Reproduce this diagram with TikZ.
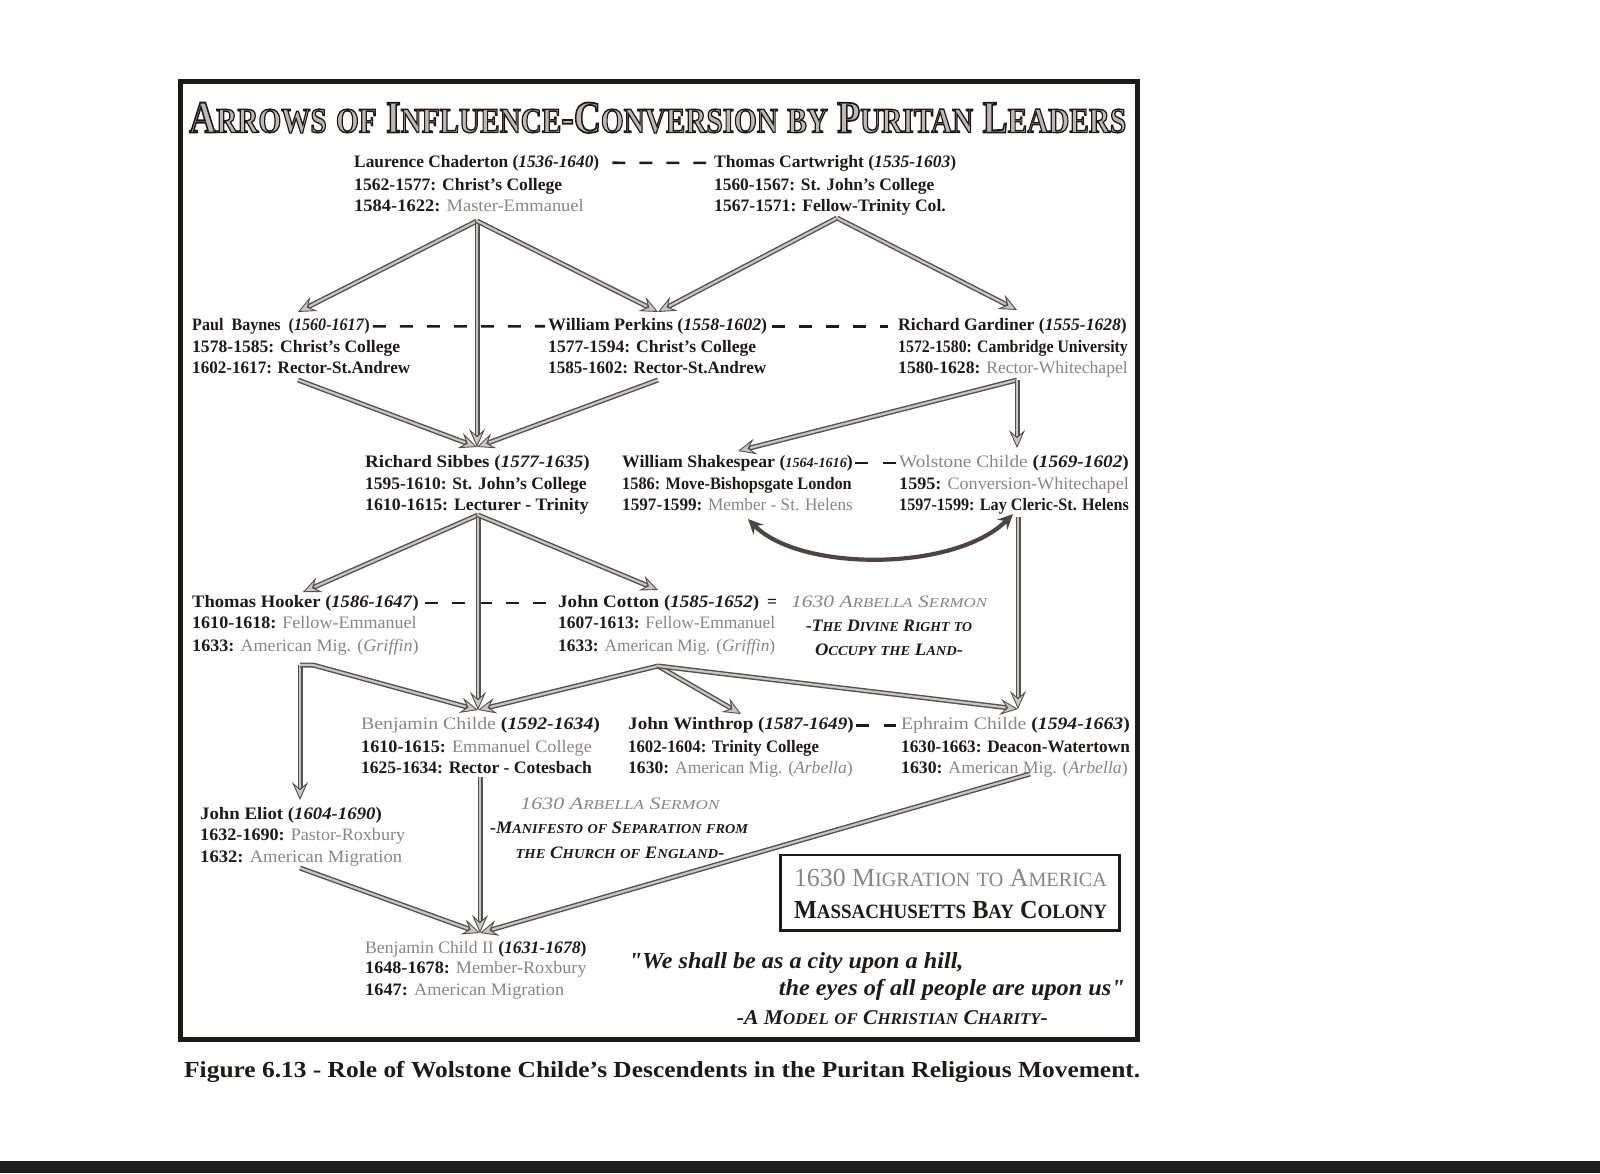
\documentclass[tikz,border=0pt]{standalone}
\usepackage{fontspec}
\setmainfont{Liberation Serif}
\usepackage{graphicx}
\usetikzlibrary{arrows.meta}
\definecolor{ink}{HTML}{1E1A1A}
\definecolor{lt}{HTML}{8A8585}
\definecolor{arrO}{HTML}{555050}
\definecolor{arrI}{HTML}{C9C5C5}
\definecolor{curv}{HTML}{4E4541}
\definecolor{titin}{HTML}{BDB8B5}
\newcommand\fw[2]{\resizebox{#1pt}{\height}{#2}}
\newcommand\txg[1]{{\mdseries\color{lt}#1}}
\newcommand\smcp[1]{\scalebox{0.78}{#1}}
\newcommand\olon{\special{pdf:literal direct 2 Tr 1.6 w 0.12 0.1 0.1 RG}}
\newcommand\oloff{\special{pdf:literal direct 0 Tr}}
\newcommand\olsm[1]{\scalebox{0.78}{\olon #1\oloff}}
\newcommand\olbig[1]{\olon #1\oloff}
\tikzset{
  tx/.style={anchor=base west, inner sep=0pt, text=ink, font=\fontsize{17.5}{20}\selectfont\bfseries},
  txc/.style={tx, anchor=base},
  flow/.style={draw=arrO, line width=5pt, line join=round,
     -{Stealth[length=18pt,width=16pt,inset=7pt,line width=0.9pt,fill=arrI]},
     postaction={draw=arrI, line width=2.2pt, arrows=-, shorten >=12.5pt}},
  curvarrow/.style={draw=curv, line width=4.2pt,
     {Stealth[length=15pt,width=14pt,inset=5pt]}-{Stealth[length=15pt,width=14pt,inset=5pt]}},
  dsh/.style={draw=ink, line width=2.6pt, dash pattern=on 13pt off 14pt},
}
\begin{document}
\begin{tikzpicture}[x=1pt,y=-1pt]
\useasboundingbox (0,0) rectangle (1600,1173);
\fill[white] (0,0) rectangle (1600,1173);
\fill[black!88] (0,1161) rectangle (1600,1173);
% frame
\draw[draw=ink, line width=5pt] (180.5,81) rectangle (1137.5,1039.5);
% title
\node[anchor=base west, inner sep=0pt, font=\fontsize{40}{44}\selectfont\bfseries, text=titin] (title) at (189,132.5)
  {\resizebox{937pt}{30pt}{\olbig{A}\olsm{RROWS} \olsm{OF} \olbig{I}\olsm{NFLUENCE}\olbig{-C}\olsm{ONVERSION} \olsm{BY} \olbig{P}\olsm{URITAN} \olbig{L}\olsm{EADERS}}};
% Chaderton
\node[tx] (chad) at (354,167) {\fw{245}{Laurence Chaderton (\textit{1536-1640})}};
\node[tx] (chad2) at (354,190) {\fw{208}{1562-1577: Christ's College}};
\node[tx] (chad3) at (354,211) {\fw{229.6}{1584-1622: \txg{Master-Emmanuel}}};
% Cartwright
\node[tx] (cart) at (714,167) {\fw{242}{Thomas Cartwright (\textit{1535-1603})}};
\node[tx] (cart2) at (714,190) {\fw{220}{1560-1567: St. John's College}};
\node[tx] (cart3) at (714,211) {\fw{231.6}{1567-1571: Fellow-Trinity Col.}};
% Baynes
\node[tx] (bayn) at (192,330.5) {\fw{177.5}{Paul\ \ Baynes\ \ (\textit{1560-1617})}};
\node[tx] (bayn2) at (192,352) {\fw{208}{1578-1585: Christ's College}};
\node[tx] (bayn3) at (192,373.5) {\fw{218}{1602-1617: Rector-St.Andrew}};
% Perkins
\node[tx] (perk) at (548,330.5) {\fw{219}{William Perkins (\textit{1558-1602})}};
\node[tx] (perk2) at (548,352) {\fw{208}{1577-1594: Christ's College}};
\node[tx] (perk3) at (548,373.5) {\fw{218}{1585-1602: Rector-St.Andrew}};
% Gardiner
\node[tx] (gard) at (898,330.5) {\fw{228.6}{Richard Gardiner (\textit{1555-1628})}};
\node[tx] (gard2) at (898,352) {\fw{229.6}{1572-1580: Cambridge University}};
\node[tx] (gard3) at (898,373.5) {\fw{229.6}{1580-1628: \txg{Rector-Whitechapel}}};
% Sibbes
\node[tx] (sib) at (365,467) {\fw{224.5}{Richard Sibbes (\textit{1577-1635})}};
\node[tx] (sib2) at (365,489) {\fw{221.4}{1595-1610: St. John's College}};
\node[tx] (sib3) at (365,510) {\fw{223.5}{1610-1615: Lecturer - Trinity}};
% Shakespear
\node[tx] (shak) at (622,467) {\fw{230.6}{William Shakespear (\textit{\fontsize{14}{16}\selectfont 1564-1616})}};
\node[tx] (shak2) at (622,489) {\fw{229.6}{1586: Move-Bishopsgate London}};
\node[tx] (shak3) at (622,510) {\fw{230.6}{1597-1599: \txg{Member - St. Helens}}};
% Wolstone
\node[tx] (wols) at (899,467) {\fw{229.6}{\txg{Wolstone Childe} (\textit{1569-1602})}};
\node[tx] (wols2) at (899,489) {\fw{229.6}{1595: \txg{Conversion-Whitechapel}}};
\node[tx] (wols3) at (899,510) {\fw{229.6}{1597-1599: Lay Cleric-St. Helens}};
% Hooker
\node[tx] (hook) at (192,607) {\fw{226.5}{Thomas Hooker (\textit{1586-1647})}};
\node[tx] (hook2) at (192,628.5) {\fw{224.5}{1610-1618: \txg{Fellow-Emmanuel}}};
\node[tx] (hook3) at (192,651) {\fw{226.5}{1633: \txg{American Mig. (\textit{Griffin})}}};
% Cotton
\node[tx] (cot) at (558,607) {\fw{201}{John Cotton (\textit{1585-1652})}};
\node[tx] (eq) at (767,607) {=};
\node[tx] (cot2) at (558,628.5) {\fw{217}{1607-1613: \txg{Fellow-Emmanuel}}};
\node[tx] (cot3) at (558,651) {\fw{217}{1633: \txg{American Mig. (\textit{Griffin})}}};
% sermon 1
\node[txc] (serA1) at (889,607) {\fw{196}{\txg{\itshape 1630 A\smcp{RBELLA} S\smcp{ERMON}}}};
\node[txc] (serA2) at (889,631.5) {\fw{166}{\itshape -T\smcp{HE} D\smcp{IVINE} R\smcp{IGHT} \smcp{TO}}};
\node[txc] (serA3) at (889,655) {\fw{148}{\itshape O\smcp{CCUPY} \smcp{THE} L\smcp{AND}-}};
% Benjamin Childe
\node[tx] (ben) at (361,729.5) {\fw{238.8}{\txg{Benjamin Childe} (\textit{1592-1634})}};
\node[tx] (ben2) at (361,752) {\fw{230.6}{1610-1615: \txg{Emmanuel College}}};
\node[tx] (ben3) at (361,773.5) {\fw{230.6}{1625-1634: Rector - Cotesbach}};
% Winthrop
\node[tx] (win) at (628,729.5) {\fw{225.5}{John Winthrop (\textit{1587-1649})}};
\node[tx] (win2) at (628,752) {\fw{190.8}{1602-1604: Trinity College}};
\node[tx] (win3) at (628,773.5) {\fw{224.5}{1630: \txg{American Mig. (\textit{Arbella})}}};
% Ephraim
\node[tx] (eph) at (901,729.5) {\fw{228.6}{\txg{Ephraim Childe} (\textit{1594-1663})}};
\node[tx] (eph2) at (901,752) {\fw{228.6}{1630-1663: Deacon-Watertown}};
\node[tx] (eph3) at (901,773.5) {\fw{226.5}{1630: \txg{American Mig. (\textit{Arbella})}}};
% Eliot
\node[tx] (eli) at (200,819) {\fw{181.6}{John Eliot (\textit{1604-1690})}};
\node[tx] (eli2) at (200,840.5) {\fw{205}{1632-1690: \txg{Pastor-Roxbury}}};
\node[tx] (eli3) at (200,862) {\fw{202}{1632: \txg{American Migration}}};
% sermon 2
\node[txc] (serB1) at (620,809) {\fw{199}{\txg{\itshape 1630 A\smcp{RBELLA} S\smcp{ERMON}}}};
\node[txc] (serB2) at (619,833.5) {\fw{258}{\itshape -M\smcp{ANIFESTO} \smcp{OF} S\smcp{EPARATION} \smcp{FROM}}};
\node[txc] (serB3) at (620,858) {\fw{209}{\itshape \smcp{THE} C\smcp{HURCH} \smcp{OF} E\smcp{NGLAND}-}};
% Benjamin Child II
\node[tx] (bc) at (365,953) {\fw{221.4}{\txg{Benjamin Child II} (\textit{1631-1678})}};
\node[tx] (bc2) at (365,973.5) {\fw{221.4}{1648-1678: \txg{Member-Roxbury}}};
\node[tx] (bc3) at (365,995) {\fw{199}{1647: \txg{American Migration}}};
% box
\node[draw=ink, line width=2.8pt, minimum width=338.8pt, minimum height=75.6pt, inner sep=0pt] (box) at (950,892.8) {};
\node[txc, font=\fontsize{26}{28}\selectfont\bfseries] (boxA) at (950.5,886) {\fw{313}{\txg{1630 M\smcp{IGRATION} \smcp{TO} A\smcp{MERICA}}}};
\node[txc, font=\fontsize{26}{28}\selectfont\bfseries] (boxB) at (950.5,918) {\fw{313}{M\smcp{ASSACHUSETTS} B\smcp{AY} C\smcp{OLONY}}};
% quote
\node[tx, font=\fontsize{23}{26}\selectfont\bfseries\itshape] (q1) at (628.6,968) {\fw{334.7}{\textquotedbl We shall be as a city upon a hill,}};
\node[tx, font=\fontsize{23}{26}\selectfont\bfseries\itshape] (q2) at (778.6,995.5) {\fw{346}{the eyes of all people are upon us\textquotedbl}};
\node[tx, font=\fontsize{21}{24}\selectfont\bfseries\itshape] (q3) at (736.7,1024) {\fw{311}{-A M\smcp{ODEL} \smcp{OF} C\smcp{HRISTIAN} C\smcp{HARITY}-}};
% caption
\node[tx, font=\fontsize{23}{26}\selectfont\bfseries] (cap) at (184,1077) {\fw{956}{Figure 6.13 - Role of Wolstone Childe's Descendents in the Puritan Religious Movement.}};

% dashed links
\draw[dsh] ([xshift=13pt]chad.east) -- ([xshift=-8pt]cart.west);
\draw[dsh] ([xshift=3pt]bayn.east) -- ([xshift=-3pt]perk.west);
\draw[dsh] ([xshift=5pt]perk.east) -- ([xshift=-10pt]gard.west);
\draw[dsh, dash pattern=on 13pt off 15pt] ([xshift=2pt]shak.east) -- ([xshift=-3pt]wols.west);
\draw[dsh] ([xshift=6pt]hook.east) -- ([xshift=-6pt]cot.west);
\draw[dsh, dash pattern=on 13pt off 15pt] ([xshift=2pt]win.east) -- ([xshift=-5pt]eph.west);

% arrow anchor points
\coordinate (chadA) at (477,221);
\coordinate (baynT) at (298,312);
\coordinate (sibT) at (477,447);
\coordinate (perkT) at (658,312);
\coordinate (cartA) at (837,218);
\coordinate (gardT) at (1017,310);
\coordinate (baynB) at (298,380);
\coordinate (perkB) at (658,380);
\coordinate (gardB) at (1017,380);
\coordinate (shakT) at (738,451);
\coordinate (wolsT) at (1017,448);
\coordinate (shakC) at (748,519);
\coordinate (wolsC) at (1013,514);
\coordinate (sibA) at (478,515);
\coordinate (hookT) at (303,592);
\coordinate (benT) at (478,710);
\coordinate (cotT) at (658,590);
\coordinate (hookB) at (300,665);
\coordinate (hookK) at (313,665);
\coordinate (eliT) at (300,800);
\coordinate (cotB) at (658,666);
\coordinate (winT) at (741,714);
\coordinate (ephT) at (1018,709);
\coordinate (wolsB) at (1018,517);
\coordinate (eliB) at (300,868);
\coordinate (benB) at (480,777);
\coordinate (bcT) at (480,933);
\coordinate (ephB) at (1030,774);

% arrows
\draw[flow] (chadA) -- (baynT);
\draw[flow] (chadA) -- (sibT);
\draw[flow] (chadA) -- (perkT);
\draw[flow] (cartA) -- (perkT);
\draw[flow] (cartA) -- (gardT);
\draw[flow] (baynB) -- (sibT);
\draw[flow] (perkB) -- (sibT);
\draw[flow] (gardB) -- (shakT);
\draw[flow] (gardB) -- (wolsT);
\draw[curvarrow] (shakC) .. controls (800,572) and (955,572) .. (wolsC);
\draw[flow] (sibA) -- (hookT);
\draw[flow] (sibA) -- (benT);
\draw[flow] (sibA) -- (cotT);
\draw[flow] (hookB) -- (eliT);
\draw[flow] (hookB) -- (hookK) -- (benT);
\draw[flow] (cotB) -- (benT);
\draw[flow] (cotB) -- (winT);
\draw[flow] (cotB) -- (ephT);
\draw[flow] (wolsB) -- (ephT);
\draw[flow] (eliB) -- (bcT);
\draw[flow] (benB) -- (bcT);
\draw[flow] (ephB) -- (bcT);
\end{tikzpicture}
\end{document}
